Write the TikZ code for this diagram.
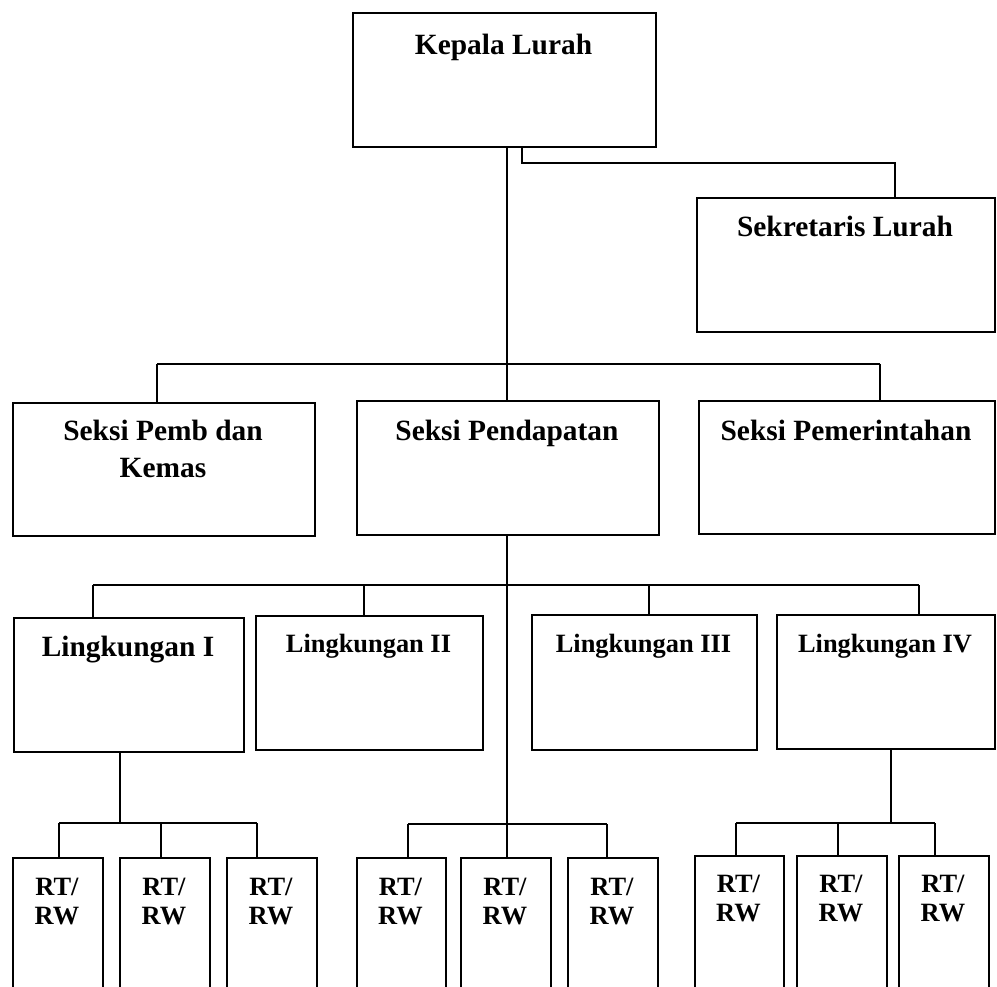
\documentclass[tikz,border=0pt]{standalone}
\usepackage{fontspec}
\setmainfont{Liberation Serif}
\begin{document}
\begin{tikzpicture}[x=1pt,y=-1pt,
  box/.style={draw,line width=1.8pt,inner sep=0pt,anchor=north west},
  lbl/.style={font=\fontsize{29.4}{34}\selectfont\bfseries,inner sep=0pt,anchor=base},
  lbls/.style={font=\fontsize{26.4}{30}\selectfont\bfseries,inner sep=0pt,anchor=base},
  link/.style={line width=1.8pt}]
\clip (0,0) rectangle (997,987);
\fill[white] (0,0) rectangle (997,987);
% boxes
\node[box,minimum width=303pt,minimum height=134pt] (kl) at (352,12) {};
\node[box,minimum width=298pt,minimum height=134pt] (sek) at (696,197) {};
\node[box,minimum width=302pt,minimum height=133pt] (sp1) at (12,402) {};
\node[box,minimum width=302pt,minimum height=134pt] (sp2) at (356,400) {};
\node[box,minimum width=296pt,minimum height=133pt] (sp3) at (698,400) {};
\node[box,minimum width=230pt,minimum height=134pt] (l1) at (13,617) {};
\node[box,minimum width=227pt,minimum height=134pt] (l2) at (255,615) {};
\node[box,minimum width=225pt,minimum height=135pt] (l3) at (531,614) {};
\node[box,minimum width=218pt,minimum height=134pt] (l4) at (776,614) {};
\node[box,minimum width=90pt,minimum height=160pt] (r1) at (12,857) {};
\node[box,minimum width=90pt,minimum height=160pt] (r2) at (119,857) {};
\node[box,minimum width=90pt,minimum height=160pt] (r3) at (226,857) {};
\node[box,minimum width=89pt,minimum height=160pt] (r4) at (356,857) {};
\node[box,minimum width=90pt,minimum height=160pt] (r5) at (460,857) {};
\node[box,minimum width=90pt,minimum height=160pt] (r6) at (567,857) {};
\node[box,minimum width=89pt,minimum height=160pt] (r7) at (694,855) {};
\node[box,minimum width=90pt,minimum height=160pt] (r8) at (796,855) {};
\node[box,minimum width=90pt,minimum height=160pt] (r9) at (898,855) {};
% labels
\node[lbl] (tkl) at (503.5,55) {Kepala Lurah};
\node[lbl] (tsek) at (845,237) {Sekretaris Lurah};
\node[lbl] (tsp1a) at (163,440) {Seksi Pemb dan};
\node[lbl] (tsp1b) at (163,477) {Kemas};
\node[lbl] (tsp2) at (507,440) {Seksi Pendapatan};
\node[lbl] (tsp3) at (846,440) {Seksi Pemerintahan};
\node[lbl] (tl1) at (128,656) {Lingkungan I};
\node[lbls] (tl2) at (368.5,652) {Lingkungan II};
\node[lbls] (tl3) at (643.5,652) {Lingkungan III};
\node[lbls] (tl4) at (885,652) {Lingkungan IV};
\foreach \n/\x/\y in {1/57/895,2/164/895,3/271/895,4/400.5/895,5/505/895,6/612/895,7/738.5/892,8/841/892,9/943/892}{
  \node[lbls] (rta\n) at (\x,\y) {RT/};
  \node[lbls] (rtb\n) at (\x,\y+29) {RW};
}
% junction coordinates
\coordinate (trunk) at (507,364);
\coordinate (sa) at (522,163);
\coordinate (sb) at (895,163);
\coordinate (ba) at (157,364);
\coordinate (bb) at (880,364);
\coordinate (la) at (93,585);
\coordinate (lb) at (364,585);
\coordinate (lc) at (649,585);
\coordinate (ld) at (919,585);
\coordinate (g1) at (120,823);
\coordinate (g1a) at (59,823);
\coordinate (g1b) at (161,823);
\coordinate (g1c) at (257,823);
\coordinate (g2a) at (408,824);
\coordinate (g2c) at (607,824);
\coordinate (g3) at (891,823);
\coordinate (g3a) at (736,823);
\coordinate (g3b) at (838,823);
\coordinate (g3c) at (935,823);
% connectors
\draw[link] (kl.south -| trunk) -- (sp2.north -| trunk);
\draw[link] (sp2.south -| trunk) -- (r5.north -| trunk);
\draw[link] (kl.south -| sa) -- (sa) -- (sb) -- (sek.north -| sb);
\draw[link] (ba) -- (bb);
\draw[link] (ba) -- (sp1.north -| ba);
\draw[link] (bb) -- (sp3.north -| bb);
\draw[link] (la) -- (ld);
\draw[link] (la) -- (l1.north -| la);
\draw[link] (lb) -- (l2.north -| lb);
\draw[link] (lc) -- (l3.north -| lc);
\draw[link] (ld) -- (l4.north -| ld);
\draw[link] (l1.south -| g1) -- (g1);
\draw[link] (g1a) -- (g1c);
\draw[link] (g1a) -- (r1.north -| g1a);
\draw[link] (g1b) -- (r2.north -| g1b);
\draw[link] (g1c) -- (r3.north -| g1c);
\draw[link] (g2a) -- (g2c);
\draw[link] (g2a) -- (r4.north -| g2a);
\draw[link] (g2c) -- (r6.north -| g2c);
\draw[link] (l4.south -| g3) -- (g3);
\draw[link] (g3a) -- (g3c);
\draw[link] (g3a) -- (r7.north -| g3a);
\draw[link] (g3b) -- (r8.north -| g3b);
\draw[link] (g3c) -- (r9.north -| g3c);
\end{tikzpicture}
\end{document}
